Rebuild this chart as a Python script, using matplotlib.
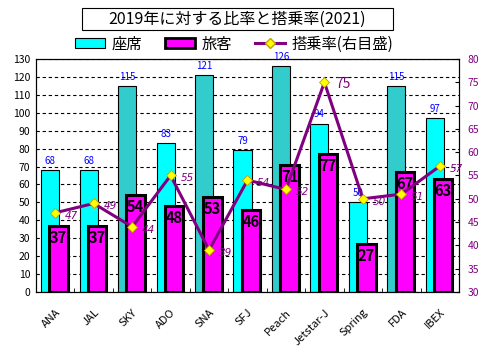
import matplotlib
matplotlib.use('Agg')
import matplotlib.pyplot as plt
import numpy as np
from matplotlib.patches import Rectangle
from matplotlib.lines import Line2D

plt.rcParams['font.family'] = ['Noto Sans CJK JP', 'DejaVu Sans']

airlines = ['ANA', 'JAL', 'SKY', 'ADO', 'SNA', 'SFJ', 'Peach', 'Jetstar-J', 'Spring', 'FDA', 'IBEX']
seats = [68, 68, 115, 83, 121, 79, 126, 94, 50, 115, 97]
passengers = [37, 37, 54, 48, 53, 46, 71, 77, 27, 67, 63]
load_factor = [47, 49, 44, 55, 39, 54, 52, 75, 50, 51, 57]

title = '2019年に対する比率と搭乗率(2021)'
purple = '#800080'

fig = plt.figure(figsize=(4.85, 3.56), dpi=100)
ax = fig.add_axes([36/485, 1 - 292/356, 423/485, 233/356])
x = np.arange(len(airlines))

seat_colors = ['#33CCCC' if s > 100 else '#00FFFF' for s in seats]
ax.bar(x - 0.13, seats, width=0.47, color=seat_colors, edgecolor='black', linewidth=0.8, zorder=2)
ax.bar(x + 0.09, passengers, width=0.48, color='#FF00FF', edgecolor='black', linewidth=2.2, zorder=3)

for i in range(len(airlines)):
    ax.annotate(str(seats[i]), (x[i] - 0.13, seats[i]), xytext=(0, 3), textcoords='offset points',
                ha='center', va='bottom', fontsize=7, color='#0000FF', annotation_clip=False)
    ax.annotate(str(passengers[i]), (x[i] + 0.09, passengers[i]), xytext=(0, -3), textcoords='offset points',
                ha='center', va='top', fontsize=10.5, fontweight='bold', color='black', zorder=4)

ax.set_xlim(-0.5, len(airlines) - 0.5)
ax.set_ylim(0, 130)
ax.set_yticks(range(0, 131, 10))
ax.yaxis.grid(True, linestyle=(0, (3, 2.5)), color='black', linewidth=0.8)
ax.set_axisbelow(True)
ax.tick_params(axis='y', length=0, labelsize=7.5, pad=4)
ax.set_xticks(x)
ax.set_xticklabels(airlines, rotation=45, ha='right', rotation_mode='anchor', fontsize=8)
ax.tick_params(axis='x', length=0, pad=11)
ax.set_xticks(np.arange(-0.5, len(airlines)), minor=True)
ax.tick_params(axis='x', which='minor', length=3, direction='in')
for sp in ax.spines.values():
    sp.set_linewidth(0.8)

ax2 = ax.twinx()
ax2.plot(x, load_factor, color=purple, linewidth=2.2, marker='D', markersize=5,
         markerfacecolor='#FFFF00', markeredgecolor='#C0A000', markeredgewidth=0.6, zorder=5)
ax2.set_ylim(30, 80)
ax2.set_yticks(range(30, 81, 5))
ax2.tick_params(axis='y', direction='in', length=3, labelsize=7.5, labelcolor=purple, pad=6)
for i in range(len(airlines)):
    if load_factor[i] == 75:
        ax2.annotate(str(load_factor[i]), (x[i], load_factor[i]), xytext=(8, -1), textcoords='offset points',
                     ha='left', va='center', fontsize=10, color=purple)
    else:
        ax2.annotate(str(load_factor[i]), (x[i], load_factor[i]), xytext=(7, -2), textcoords='offset points',
                     ha='left', va='center', fontsize=7.5, style='italic', color=purple,
                     family='DejaVu Sans')

# title box
fig.patches.append(Rectangle((82/485, 1 - 30/356), 311/485, 22/356, transform=fig.transFigure,
                             facecolor='white', edgecolor='black', linewidth=0.8))
fig.text(237/485, 1 - 19/356, title, ha='center', va='center', fontsize=11.5)

handles = [Rectangle((0, 0), 1, 1, facecolor='#00FFFF', edgecolor='black', linewidth=0.8),
           Rectangle((0, 0), 1, 1, facecolor='#FF00FF', edgecolor='black', linewidth=2),
           Line2D([], [], color=purple, linewidth=2.2, marker='D', markersize=5,
                  markerfacecolor='#FFFF00', markeredgecolor='#C0A000')]
fig.legend(handles, ['座席', '旅客', '搭乗率(右目盛)'], loc='center', bbox_to_anchor=(234/485, 1 - 44/356),
           ncol=3, frameon=False, fontsize=11, handlelength=2.0, handleheight=0.6,
           columnspacing=1.5, handletextpad=0.4, borderpad=0)

fig.savefig('out.png', dpi=100)
